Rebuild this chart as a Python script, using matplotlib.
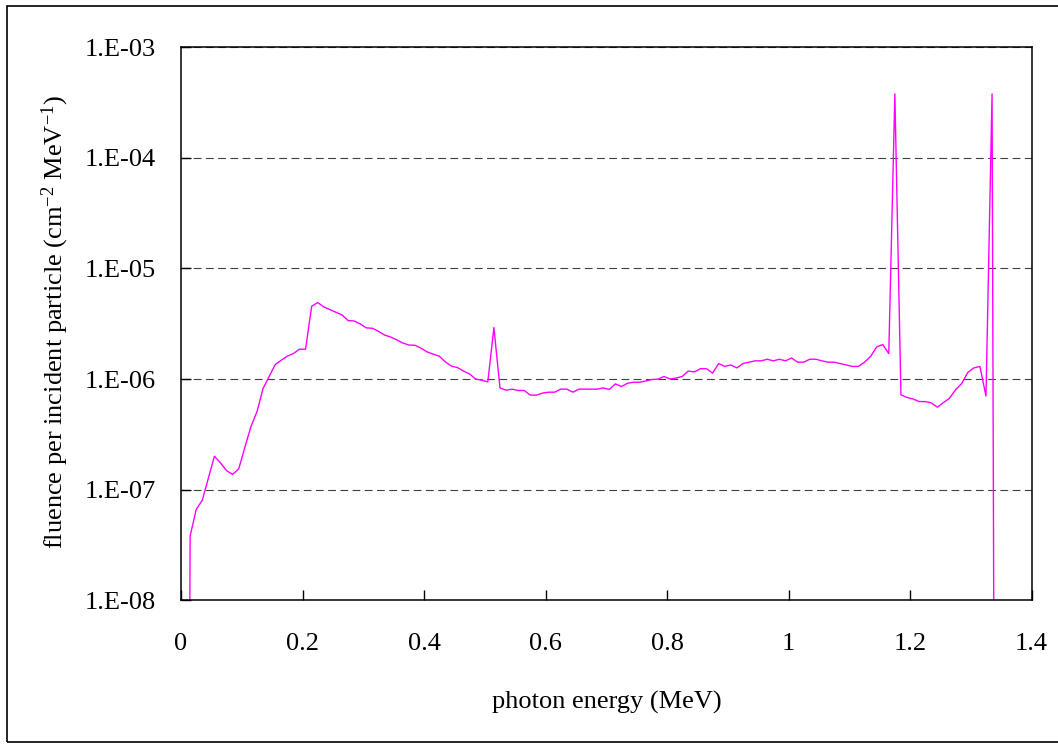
import matplotlib
matplotlib.use("Agg")
import matplotlib.pyplot as plt
from matplotlib.patches import Rectangle

plt.rcParams['font.family'] = ['Liberation Serif', 'DejaVu Serif']
plt.rcParams['mathtext.default'] = 'regular'

# photon energy bin centres (MeV)
energy = [
    0.005, 0.015, 0.025, 0.035, 0.045, 0.055, 0.065, 0.075, 0.085, 0.095,
    0.105, 0.115, 0.125, 0.135, 0.145, 0.155, 0.165, 0.175, 0.185, 0.195,
    0.205, 0.215, 0.225, 0.235, 0.245, 0.255, 0.265, 0.275, 0.285, 0.295,
    0.305, 0.315, 0.325, 0.335, 0.345, 0.355, 0.365, 0.375, 0.385, 0.395,
    0.405, 0.415, 0.425, 0.435, 0.445, 0.455, 0.465, 0.475, 0.485, 0.495,
    0.505, 0.515, 0.525, 0.535, 0.545, 0.555, 0.565, 0.575, 0.585, 0.595,
    0.605, 0.615, 0.625, 0.635, 0.645, 0.655, 0.665, 0.675, 0.685, 0.695,
    0.705, 0.715, 0.725, 0.735, 0.745, 0.755, 0.765, 0.775, 0.785, 0.795,
    0.805, 0.815, 0.825, 0.835, 0.845, 0.855, 0.865, 0.875, 0.885, 0.895,
    0.905, 0.915, 0.925, 0.935, 0.945, 0.955, 0.965, 0.975, 0.985, 0.995,
    1.005, 1.015, 1.025, 1.035, 1.045, 1.055, 1.065, 1.075, 1.085, 1.095,
    1.105, 1.115, 1.125, 1.135, 1.145, 1.155, 1.165, 1.175, 1.185, 1.195,
    1.205, 1.215, 1.225, 1.235, 1.245, 1.255, 1.265, 1.275, 1.285, 1.295,
    1.305, 1.315, 1.325, 1.335, 1.345,
]

# fluence per incident particle (cm^-2 MeV^-1), 1e-20 = empty bin
fluence = [
    1e-20, 3.8e-8, 6.6e-8, 8.0e-8, 1.26e-7, 2.0e-7, 1.74e-7, 1.48e-7, 1.37e-7, 1.54e-7,
    2.4e-7, 3.7e-7, 5.05e-7, 8.2e-7, 1.05e-6, 1.35e-6, 1.48e-6, 1.61e-6, 1.70e-6, 1.86e-6,
    1.86e-6, 4.55e-6, 4.92e-6, 4.49e-6, 4.25e-6, 4.02e-6, 3.80e-6, 3.38e-6, 3.35e-6, 3.15e-6,
    2.90e-6, 2.88e-6, 2.70e-6, 2.50e-6, 2.40e-6, 2.26e-6, 2.12e-6, 2.03e-6, 2.02e-6, 1.90e-6,
    1.76e-6, 1.68e-6, 1.61e-6, 1.43e-6, 1.31e-6, 1.27e-6, 1.18e-6, 1.11e-6, 1.00e-6, 9.76e-7,
    9.42e-7, 2.92e-6, 8.31e-7, 7.92e-7, 8.09e-7, 7.87e-7, 7.87e-7, 7.15e-7, 7.15e-7, 7.45e-7,
    7.6e-7, 7.6e-7, 8.1e-7, 8.1e-7, 7.6e-7, 8.1e-7, 8.1e-7, 8.1e-7, 8.1e-7, 8.3e-7,
    8.05e-7, 9.03e-7, 8.55e-7, 9.16e-7, 9.35e-7, 9.35e-7, 9.6e-7, 9.9e-7, 9.95e-7, 1.055e-6,
    1.0e-6, 1.02e-6, 1.055e-6, 1.18e-6, 1.16e-6, 1.24e-6, 1.24e-6, 1.13e-6, 1.38e-6, 1.30e-6,
    1.34e-6, 1.26e-6, 1.38e-6, 1.42e-6, 1.46e-6, 1.46e-6, 1.51e-6, 1.46e-6, 1.51e-6, 1.46e-6,
    1.55e-6, 1.42e-6, 1.42e-6, 1.51e-6, 1.51e-6, 1.46e-6, 1.42e-6, 1.42e-6, 1.38e-6, 1.34e-6,
    1.30e-6, 1.30e-6, 1.42e-6, 1.6e-6, 1.95e-6, 2.05e-6, 1.7e-6, 3.8e-4, 7.2e-7, 6.8e-7,
    6.6e-7, 6.25e-7, 6.25e-7, 6.08e-7, 5.56e-7, 6.12e-7, 6.7e-7, 8.0e-7, 9.1e-7, 1.145e-6,
    1.26e-6, 1.30e-6, 7.0e-7, 3.8e-4, 1e-20,
]

x_ticks = [0, 0.2, 0.4, 0.6, 0.8, 1.0, 1.2, 1.4]
x_ticklabels = ['0', '0.2', '0.4', '0.6', '0.8', '1', '1.2', '1.4']
y_ticks = [1e-8, 1e-7, 1e-6, 1e-5, 1e-4, 1e-3]
y_ticklabels = ['1.E-08', '1.E-07', '1.E-06', '1.E-05', '1.E-04', '1.E-03']

fig = plt.figure(figsize=(10.58, 7.44), dpi=100)
ax = fig.add_axes([0.1711, 0.1935, 0.975 - 0.1711, 0.9362 - 0.1935])

ax.plot(energy, fluence, color='#FF00FF', lw=1.0)

ax.set_yscale('log')
ax.set_xlim(0, 1.4)
ax.set_ylim(1e-8, 1e-3)
ax.set_xticks(x_ticks)
ax.set_xticklabels(x_ticklabels)
ax.set_yticks(y_ticks)
ax.set_yticklabels(y_ticklabels)
ax.minorticks_off()
ax.tick_params(axis='both', direction='in', length=7, width=1, labelsize=19)
ax.tick_params(axis='x', pad=24)
ax.tick_params(axis='y', pad=18)

ax.yaxis.grid(True, linestyle=(0, (7, 4)), color='#404040', lw=0.8)
ax.set_axisbelow(True)
for sp in ax.spines.values():
    sp.set_linewidth(1.1)

ax.set_xlabel('photon energy (MeV)', fontsize=19)
ax.xaxis.label.set_va('center')
ax.xaxis.set_label_coords(0.501, -0.186)
ax.set_ylabel(r'fluence per incident particle (cm$^{-2}$ MeV$^{-1}$)', fontsize=19)
ax.yaxis.label.set_va('center')
ax.yaxis.set_label_coords(-0.148, 0.503)

# frame round the whole chart (right side runs off the picture)
fig.add_artist(Rectangle((0.0062, 0.0022), 1.05, 0.9898, transform=fig.transFigure,
                         fill=False, lw=1.2, edgecolor='black'))

fig.savefig('out.png', dpi=100)
